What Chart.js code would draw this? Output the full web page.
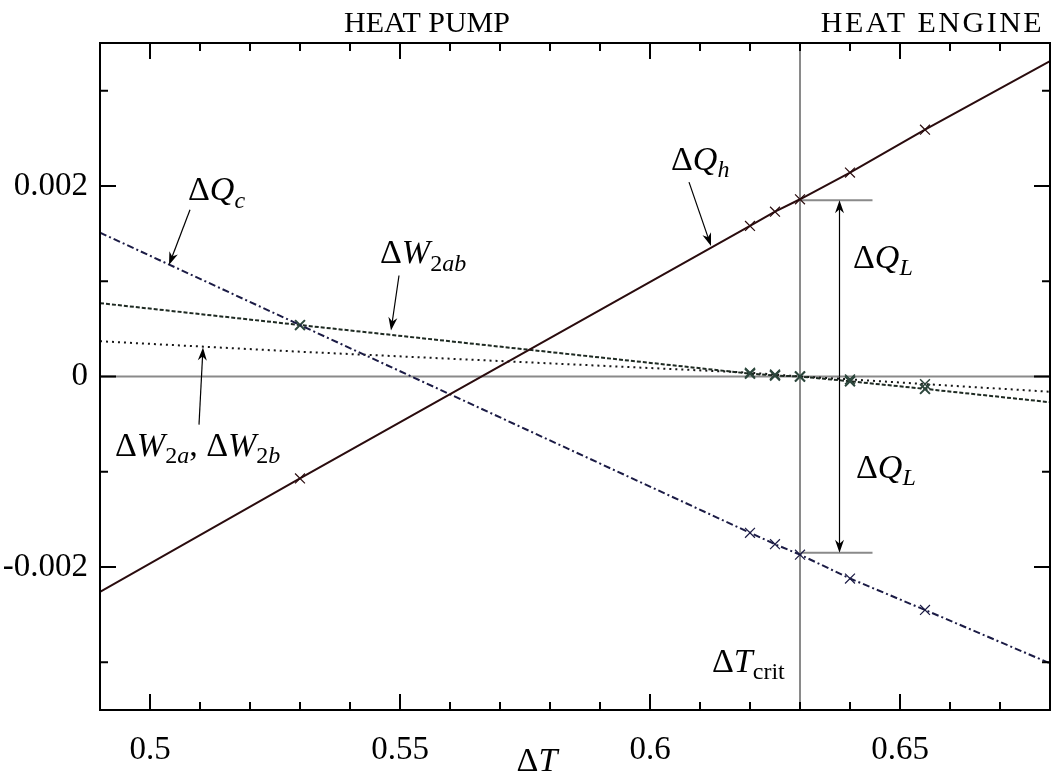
<!DOCTYPE html>
<html>
<head>
<meta charset="utf-8">
<script src="https://cdn.jsdelivr.net/npm/chart.js@4"></script>
<style>
  html, body { margin: 0; padding: 0; background: #fff; }
  #wrap { width: 1056px; height: 776px; }
</style>
</head>
<body>
<div id="wrap"><canvas id="heatChart"></canvas></div>
<script>
// temperature difference values where the curves were sampled
const deltaT = [0.49, 0.53, 0.62, 0.625, 0.63, 0.64, 0.655, 0.68];
const dQh   = [-0.00226, -0.00107, 0.00158, 0.00173, 0.00186, 0.00214, 0.00259, 0.00331];
const dQc   = [0.00151, 0.00054, -0.00164, -0.00176, -0.00187, -0.00212, -0.00245, -0.00301];
const dW2ab = [0.00077, 0.00054, 0.00003, 0.00001, 0.0, -0.00005, -0.00013, -0.00027];
const dW2a  = [0.00037, 0.00026, 0.00004, 0.00002, 0.0, -0.00003, -0.00008, -0.00016];

const xTickLabels = [0.5, 0.55, 0.6, 0.65];
const yTickLabels = [-0.002, 0, 0.002];
const dTcrit = 0.63;
const dQL = 0.00185;

const FONT = '"Liberation Serif", "Times New Roman", serif';
const MATH = 34;

const toPoints = ys => deltaT.map((x, i) => ({ x: x, y: ys[i] }));
// no cross at the two ends of a line (and none on the dotted one at 0.53)
const marks = (skip) => deltaT.map((x, i) => (i === 0 || i === deltaT.length - 1 || skip.includes(i)) ? 0 : 7);

function drawMath(ctx, parts, x, y, size, align) {
  const isSub = st => st === 's' || st === 'sr';
  const fontFor = st => {
    const sz = isSub(st) ? Math.round(size * 0.7) : size;
    const it = st === 'i' || st === 's';
    return (it ? 'italic ' : '') + sz + 'px ' + FONT;
  };
  let w = 0;
  parts.forEach(([t, st]) => { ctx.font = fontFor(st); w += ctx.measureText(t).width; });
  let cx = align === 'center' ? x - w / 2 : x;
  ctx.textAlign = 'left';
  ctx.textBaseline = 'alphabetic';
  parts.forEach(([t, st]) => {
    ctx.font = fontFor(st);
    ctx.fillText(t, cx, y + (isSub(st) ? size * 0.22 : 0));
    cx += ctx.measureText(t).width;
  });
}

function arrow(ctx, x1, y1, x2, y2) {
  const a = Math.atan2(y2 - y1, x2 - x1), L = 13, W = 4.5;
  ctx.beginPath();
  ctx.moveTo(x1, y1);
  ctx.lineTo(x2 - Math.cos(a) * 8, y2 - Math.sin(a) * 8);
  ctx.stroke();
  ctx.save();
  ctx.translate(x2, y2);
  ctx.rotate(a);
  ctx.beginPath();
  ctx.moveTo(0, 0);
  ctx.lineTo(-L, -W);
  ctx.lineTo(-L * 0.7, 0);
  ctx.lineTo(-L, W);
  ctx.closePath();
  ctx.fill();
  ctx.restore();
}

// gray reference lines under the curves
const refLines = {
  id: 'refLines',
  beforeDatasetsDraw(chart) {
    const { ctx, chartArea: a, scales: { x, y } } = chart;
    ctx.save();
    ctx.strokeStyle = '#8a8a8a';
    ctx.lineWidth = 2;
    ctx.beginPath();
    ctx.moveTo(a.left, y.getPixelForValue(0));
    ctx.lineTo(a.right, y.getPixelForValue(0));
    ctx.moveTo(x.getPixelForValue(dTcrit), a.top);
    ctx.lineTo(x.getPixelForValue(dTcrit), a.bottom);
    // brackets for the ΔQ_L arrow
    ctx.moveTo(x.getPixelForValue(dTcrit), y.getPixelForValue(dQL));
    ctx.lineTo(x.getPixelForValue(0.6445), y.getPixelForValue(dQL));
    ctx.moveTo(x.getPixelForValue(dTcrit), y.getPixelForValue(-dQL));
    ctx.lineTo(x.getPixelForValue(0.6445), y.getPixelForValue(-dQL));
    ctx.stroke();
    ctx.restore();
  }
};

// boxed frame with inward ticks on all four sides
const frame = {
  id: 'frame',
  afterDatasetsDraw(chart) {
    const { ctx, chartArea: a, scales: { x, y } } = chart;
    ctx.save();
    ctx.strokeStyle = '#000';
    ctx.lineWidth = 2;
    ctx.strokeRect(a.left, a.top, a.right - a.left, a.bottom - a.top);
    ctx.beginPath();
    for (let k = 49; k <= 68; k++) {
      const p = x.getPixelForValue(k / 100);
      const len = (k % 5 === 0) ? 16 : 8;
      ctx.moveTo(p, a.bottom); ctx.lineTo(p, a.bottom - len);
      ctx.moveTo(p, a.top); ctx.lineTo(p, a.top + len);
    }
    for (let k = -3; k <= 3; k++) {
      const p = y.getPixelForValue(k / 1000);
      const len = (k % 2 === 0) ? 16 : 8;
      ctx.moveTo(a.left, p); ctx.lineTo(a.left + len, p);
      ctx.moveTo(a.right, p); ctx.lineTo(a.right - len, p);
    }
    ctx.stroke();
    ctx.restore();
  }
};

const labels = {
  id: 'labels',
  afterDraw(chart) {
    const { ctx, chartArea: a, scales: { x, y } } = chart;
    const P = (vx, vy) => [x.getPixelForValue(vx), y.getPixelForValue(vy)];
    ctx.save();
    ctx.fillStyle = '#000';
    ctx.strokeStyle = '#000';
    ctx.lineWidth = 1.2;

    ctx.font = '30px ' + FONT;
    ctx.textAlign = 'center';
    ctx.textBaseline = 'alphabetic';
    ctx.fillText('HEAT PUMP', x.getPixelForValue(0.5554), a.top - 11);
    ctx.letterSpacing = '2.5px';
    ctx.fillText('HEAT ENGINE', x.getPixelForValue(0.6565), a.top - 11);
    ctx.letterSpacing = '0px';

    let p;
    p = P(0.6042, 0.00217); drawMath(ctx, [['Δ', 'r'], ['Q', 'i'], ['h', 's']], p[0], p[1], MATH);
    arrow(ctx, ...P(0.6078, 0.00204), ...P(0.6122, 0.00137));

    p = P(0.5076, 0.00185); drawMath(ctx, [['Δ', 'r'], ['Q', 'i'], ['c', 's']], p[0], p[1], MATH);
    arrow(ctx, ...P(0.5080, 0.00175), ...P(0.5038, 0.00117));

    p = P(0.5460, 0.00119); drawMath(ctx, [['Δ', 'r'], ['W', 'i'], ['2', 'sr'], ['ab', 's']], p[0], p[1], MATH);
    arrow(ctx, ...P(0.5498, 0.00106), ...P(0.5482, 0.000484));

    p = P(0.4930, -0.00083);
    drawMath(ctx, [['Δ', 'r'], ['W', 'i'], ['2', 'sr'], ['a', 's'], [', Δ', 'r'], ['W', 'i'], ['2', 'sr'], ['b', 's']], p[0], p[1], MATH);
    arrow(ctx, ...P(0.5098, -0.000505), ...P(0.5106, 0.000305));

    p = P(0.6406, 0.00114); drawMath(ctx, [['Δ', 'r'], ['Q', 'i'], ['L', 's']], p[0], p[1], MATH);
    p = P(0.6412, -0.00106); drawMath(ctx, [['Δ', 'r'], ['Q', 'i'], ['L', 's']], p[0], p[1], MATH);
    // double arrow between the brackets
    const ax = x.getPixelForValue(0.6379), ym = y.getPixelForValue(0);
    arrow(ctx, ax, ym, ax, y.getPixelForValue(dQL));
    arrow(ctx, ax, ym, ax, y.getPixelForValue(-dQL));

    p = P(0.6124, -0.0031); drawMath(ctx, [['Δ', 'r'], ['T', 'i'], ['crit', 'sr']], p[0], p[1], MATH);

    drawMath(ctx, [['Δ', 'r'], ['T', 'i']], x.getPixelForValue(0.5774), 771, MATH, 'center');
    ctx.restore();
  }
};

new Chart(document.getElementById('heatChart'), {
  type: 'line',
  data: {
    datasets: [
      {
        label: 'ΔQh', data: toPoints(dQh),
        borderColor: '#2a0c0e', borderWidth: 2,
        pointStyle: 'crossRot', pointRadius: marks([]), pointBorderWidth: 1.2,
        pointBorderColor: '#2a0c0e'
      },
      {
        label: 'ΔQc', data: toPoints(dQc),
        borderColor: '#1b1b45', borderWidth: 2, borderDash: [7, 3, 2, 3],
        pointStyle: 'crossRot', pointRadius: marks([1]), pointBorderWidth: 1.2,
        pointBorderColor: '#1b1b45'
      },
      {
        label: 'ΔW2ab', data: toPoints(dW2ab),
        borderColor: '#1e2a22', borderWidth: 2, borderDash: [4, 2],
        pointStyle: 'crossRot', pointRadius: marks([]), pointBorderWidth: 2,
        pointBorderColor: '#2c463c'
      },
      {
        label: 'ΔW2a, ΔW2b', data: toPoints(dW2a),
        borderColor: '#161616', borderWidth: 2, borderDash: [2, 4],
        pointStyle: 'crossRot', pointRadius: marks([1]), pointBorderWidth: 1.5,
        pointBorderColor: '#2c463c'
      }
    ]
  },
  options: {
    responsive: true,
    maintainAspectRatio: false,
    animation: false,
    layout: { padding: { top: 43, right: 6, left: 0, bottom: 0 } },
    plugins: { legend: { display: false }, tooltip: { enabled: false } },
    scales: {
      x: {
        type: 'linear', min: 0.49, max: 0.68,
        grid: { display: false, drawTicks: false },
        border: { display: false },
        afterBuildTicks: s => { s.ticks = xTickLabels.map(v => ({ value: v })); },
        afterFit: s => { s.height = 66; },
        ticks: {
          font: { family: FONT, size: 33 }, color: '#000', padding: 21,
          maxRotation: 0, autoSkip: false, callback: v => String(v)
        }
      },
      y: {
        type: 'linear', min: -0.0035, max: 0.0035,
        grid: { display: false, drawTicks: false },
        border: { display: false },
        afterBuildTicks: s => { s.ticks = yTickLabels.map(v => ({ value: v })); },
        afterFit: s => { s.width = 100; },
        ticks: {
          font: { family: FONT, size: 33 }, color: '#000', padding: 12,
          autoSkip: false, callback: v => v === 0 ? '0' : v.toFixed(3)
        }
      }
    }
  },
  plugins: [refLines, frame, labels]
});
</script>
</body>
</html>
